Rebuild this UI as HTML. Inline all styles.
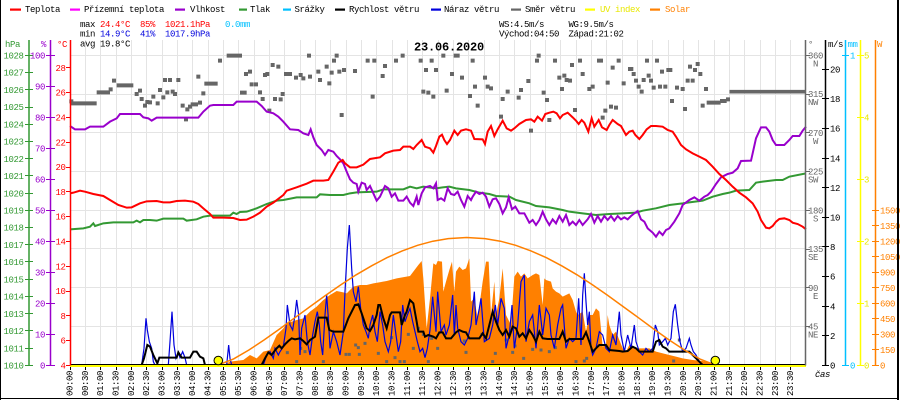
<!DOCTYPE html>
<html><head><meta charset="utf-8"><style>
html,body{margin:0;padding:0;background:#fff;width:900px;height:400px;overflow:hidden}
svg{display:block}
text{font-family:"Liberation Mono",monospace;font-size:9px;letter-spacing:-0.4px}
</style></head><body>
<svg width="900" height="400" viewBox="0 0 900 400" xmlns="http://www.w3.org/2000/svg">
<rect width="900" height="400" fill="#fff"/>
<!-- grid -->
<path fill="none" stroke="#e4e4e4" stroke-width="1" d="M85.5 40V365M100.5 40V365M116.5 40V365M131.5 40V365M146.5 40V365M162.5 40V365M177.5 40V365M192.5 40V365M208.5 40V365M223.5 40V365M238.5 40V365M254.5 40V365M269.5 40V365M284.5 40V365M300.5 40V365M315.5 40V365M330.5 40V365M346.5 40V365M361.5 40V365M376.5 40V365M392.5 40V365M407.5 40V365M422.5 40V365M438.5 40V365M453.5 40V365M468.5 40V365M484.5 40V365M499.5 40V365M514.5 40V365M530.5 40V365M545.5 40V365M560.5 40V365M576.5 40V365M591.5 40V365M606.5 40V365M622.5 40V365M637.5 40V365M652.5 40V365M668.5 40V365M683.5 40V365M698.5 40V365M714.5 40V365M729.5 40V365M744.5 40V365M760.5 40V365M775.5 40V365M790.5 40V365
M70 326.5H805M70 287.5H805M70 248.5H805M70 210.5H805M70 171.5H805M70 132.5H805M70 94.5H805M70 55.5H805"/>

<g transform="translate(70,40) scale(0.333333)">
<!-- solar measured fill -->
<polygon fill="#ff8000" points="460,975 480,965 520,960 540,945 560,955 580,935 600,930 620,885 640,865 650,850 680,840 700,835 720,815 740,800 760,780 780,765 800,753 820,757 830,760 850,740 870,735 890,735 910,730 950,723 980,715 1020,708 1045,675 1055,663 1060,715 1070,865 1080,775 1090,670 1098,675 1103,663 1116,665 1120,755 1128,725 1138,690 1146,665 1153,755 1158,695 1168,680 1178,690 1188,685 1198,655 1203,785 1213,775 1223,835 1238,725 1248,665 1256,665 1263,825 1273,725 1278,825 1288,775 1298,685 1308,825 1323,855 1333,710 1343,695 1353,710 1363,700 1373,715 1388,705 1398,700 1408,705 1418,795 1423,715 1428,720 1443,725 1448,745 1458,755 1468,760 1478,770 1488,765 1498,760 1508,780 1518,815 1523,825 1538,815 1548,875 1558,825 1568,825 1578,805 1588,815 1598,920 1608,915 1613,825 1618,855 1628,885 1638,875 1658,925 1668,935 1678,915 1698,925 1718,925 1738,925 1758,935 1798,945 1818,950 1838,955 1868,960 1898,963 1928,970 1938,975"/>
<!-- wind direction squares -->
<path fill="none" stroke="#666" stroke-width="12" stroke-linecap="square" d="M6 190H74M4 184h0M86 157H114M146 136H184M409 131H437M476 47H510M516 158H524
M122 148h0M132 122h0M200 162h0M210 152h0M215 177h0M225 197h0M232 186h0M240 187h0M250 170h0M263 190h0M270 150h0M280 172h0M285 120h0M292 157h0M300 120h0M308 155h0M315 162h0M325 120h0M338 197h0M348 238h0M352 208h0M360 200h0M368 193h0M378 193h0M385 110h0M390 188h0M400 160h0M450 62h0M528 102h0M540 95h0M545 133h0M558 133h0M570 157h0M578 177h0M585 105h0M592 102h0M598 212h0M608 75h0M615 177h0M625 80h0M632 178h0M638 162h0M648 102h0M660 102h0M678 113h0M692 105h0M700 115h0M717 47h0M720 110h0M745 95h0M750 120h0M770 80h0M778 130h0M785 98h0M792 62h0M800 47h0M808 95h0M815 225h0M822 90h0M855 93h0M893 62h0M908 170h0M913 62h0M938 108h0M945 78h0M978 62h0M998 47h0M1052 62h0M1060 155h0M1068 90h0M1075 158h0M1085 62h0M1090 170h0M1098 90h0
M1120 47h0M1130 152h0M1146 102h0M1157 47H1163M1176 113h0M1200 168h0M1208 62h0M1215 140h0M1223 197h0M1245 113h0M1253 140h0M1263 145h0M1293 230h0M1298 177h0M1313 155h0M1346 173h0M1353 150h0M1375 123h0M1383 272h0M1401 62h0M1406 47h0M1421 158h0M1431 180h0M1438 240h0M1455 62h0M1468 113h0M1476 147h0M1483 107h0M1490 120h0M1500 122h0M1506 75h0M1515 210h0M1530 62h0M1538 102h0M1558 147h0M1568 140h0M1587 62H1593M1598 233h0M1606 212h0M1613 128h0M1623 200h0M1628 83h0M1638 203h0M1646 62h0M1661 130h0M1680 87H1684M1691 102h0M1698 122h0M1706 140h0M1715 155h0M1721 120h0M1731 62h0M1736 107h0M1743 122h0M1751 143h0M1761 62h0M1770 140h0M1776 95h0M1786 140h0M1795 90H1801M1806 183h0M1821 143h0M1838 147h0M1845 207h0M1853 122h0M1860 80h0M1868 122h0M1875 90h0M1883 72h0M1891 102h0M1898 197h0M1908 147h0M1916 188H1946M1956 183H1964M1974 178h0"/>
<path fill="none" stroke="#666" stroke-width="11" stroke-linecap="square" d="M1984 155H2202"/>
<path fill="none" stroke="#666" stroke-width="9" stroke-linecap="square" d="M652 938h0M680 965h0M692 925h0M705 935h0M760 965h0M828 943h0M838 943h0M857 915h0M865 923h0M868 943h0M885 910h0M925 940h0M950 965h0M965 893h0M975 953h0M990 965h0M1003 965h0M1015 883h0M1030 925h0M1045 865h0M1060 883h0M1075 965h0M1085 895h0M1103 925h0M1183 903h0M1188 937h0M1236 883h0M1268 965h0M1276 940h0M1308 900h0M1328 937h0M1335 918h0M1361 955h0M1388 928h0M1413 930h0M1438 935h0M1456 923h0M1518 965h0M1543 963h0M1550 955h0M1811 963h0M1828 900h0"/>
<!-- gusts -->
<polyline fill="none" stroke="#0000dd" stroke-width="1.2" vector-effect="non-scaling-stroke" points="0,975 215,975 222,925 228,835 232,870 238,905 245,925 250,965 255,975 295,975 300,905 306,815 312,915 318,955 325,937 330,953 338,935 345,953 350,975 470,975 476,915 480,955 485,975 580,975 590,945 600,935 610,955 615,925 625,945 630,935 640,920 648,865 652,795 660,855 668,870 675,825 680,780 686,825 690,945 695,865 705,825 712,905 720,945 728,885 735,845 742,815 748,855 752,905 758,945 765,825 770,765 775,835 780,925 790,875 800,905 810,945 820,875 825,755 832,625 838,555 845,685 850,755 858,785 865,740 872,805 880,855 888,875 895,895 900,855 908,825 915,875 922,905 930,815 938,855 945,905 955,935 962,905 970,825 978,885 985,935 992,905 998,795 1005,845 1012,825 1020,805 1028,845 1035,875 1042,905 1050,935 1058,925 1065,953 1072,925 1080,870 1088,770 1095,845 1098,875 1103,755 1108,815 1113,875 1123,855 1128,885 1138,855 1148,765 1153,885 1158,795 1163,865 1173,905 1183,915 1193,895 1203,855 1213,755 1218,855 1228,805 1233,775 1243,905 1258,895 1268,855 1276,795 1283,855 1293,775 1303,805 1308,925 1318,885 1326,795 1333,925 1343,855 1353,725 1363,705 1368,905 1378,845 1388,825 1398,925 1408,795 1418,885 1428,805 1438,825 1443,885 1453,925 1463,855 1473,805 1478,795 1488,925 1498,895 1508,905 1518,895 1526,775 1533,915 1538,765 1543,700 1548,785 1553,855 1558,815 1563,925 1568,945 1578,925 1588,875 1598,885 1608,925 1618,935 1628,885 1638,915 1648,815 1653,885 1663,935 1673,885 1683,925 1693,855 1698,905 1708,935 1718,945 1728,925 1738,935 1748,925 1756,855 1763,875 1768,915 1778,905 1786,895 1793,915 1803,895 1810,815 1816,793 1823,855 1830,905 1838,935 1848,925 1858,895 1863,915 1870,935 1878,945 1888,965 1898,975 2208,975"/>
<!-- wind speed -->
<polyline fill="none" stroke="#000" stroke-width="2" vector-effect="non-scaling-stroke" points="0,975 215,975 222,955 232,915 240,920 250,945 262,970 268,953 300,953 320,953 325,937 335,953 360,953 370,935 380,935 390,950 400,955 405,975 575,975 585,955 595,937 605,945 612,935 620,925 628,917 635,925 645,913 655,903 665,895 675,898 690,895 700,903 710,913 720,900 735,890 745,833 770,833 778,870 790,875 820,875 835,835 845,815 855,795 865,793 875,820 890,865 900,873 910,855 920,825 925,795 930,795 940,835 950,865 960,825 965,817 990,817 995,855 1005,825 1010,815 1020,780 1030,790 1040,845 1045,875 1060,875 1065,890 1075,885 1090,890 1098,895 1108,877 1118,877 1128,895 1143,895 1158,877 1168,870 1178,875 1188,877 1198,895 1228,895 1238,880 1248,895 1258,855 1268,815 1278,845 1288,870 1298,885 1308,870 1318,890 1328,860 1338,865 1348,890 1358,880 1368,895 1378,870 1388,885 1398,905 1408,875 1418,895 1433,897 1468,897 1478,875 1488,905 1498,897 1538,897 1548,877 1558,905 1568,935 1578,925 1588,915 1608,915 1618,930 1648,933 1658,935 1673,933 1688,920 1698,925 1708,935 1748,935 1758,905 1768,900 1778,920 1788,925 1798,935 1858,935 1868,945 1878,955 1888,965 1898,975 2208,975"/>
<!-- pressure -->
<polyline fill="none" stroke="#339933" stroke-width="2" vector-effect="non-scaling-stroke" points="0,568 40,565 60,560 70,550 75,558 100,550 130,547 190,547 200,542 210,547 220,540 240,540 260,542 280,536 340,536 350,542 380,538 400,530 420,527 480,527 490,518 500,522 510,516 530,515 560,505 590,492 620,482 640,480 680,472 740,472 750,463 780,465 820,465 840,460 860,457 920,455 940,448 1000,448 1020,440 1040,445 1060,440 1098,445 1118,442 1138,440 1158,445 1198,450 1228,458 1258,462 1278,468 1318,470 1338,480 1378,490 1398,498 1438,502 1478,510 1498,515 1538,520 1578,525 1618,522 1658,520 1698,518 1718,512 1758,505 1798,495 1838,490 1858,487 1898,482 1928,470 1958,462 1978,458 1998,452 2038,450 2058,428 2078,425 2118,420 2138,420 2158,410 2208,400"/>
<!-- humidity -->
<polyline fill="none" stroke="#9900cc" stroke-width="2" vector-effect="non-scaling-stroke" points="0,258 15,268 45,268 60,260 100,260 120,245 140,235 150,222 210,222 220,232 235,235 245,242 260,233 385,233 400,215 420,197 430,195 490,195 500,185 560,185 575,198 590,215 610,220 625,230 640,245 660,268 685,270 700,280 715,285 722,268 730,292 740,315 755,330 765,345 775,330 790,335 800,348 810,358 820,370 830,395 840,418 850,428 860,432 865,455 875,428 885,432 890,450 900,438 910,460 920,482 930,470 945,438 955,445 965,470 975,460 985,482 1000,482 1010,470 1020,488 1030,498 1040,470 1045,495 1055,460 1065,442 1080,438 1090,445 1098,430 1103,480 1113,475 1123,482 1133,445 1143,462 1153,465 1163,455 1173,480 1183,500 1193,468 1203,480 1208,470 1218,455 1228,462 1238,458 1248,470 1258,500 1268,478 1278,475 1288,492 1298,520 1308,502 1316,472 1326,508 1336,500 1348,520 1363,520 1378,548 1388,540 1398,555 1408,540 1418,515 1428,538 1438,555 1448,538 1458,550 1468,528 1478,545 1488,525 1498,555 1508,545 1518,555 1528,540 1538,555 1553,538 1563,522 1573,548 1583,528 1593,545 1603,528 1613,540 1623,528 1633,542 1643,528 1653,538 1663,532 1673,538 1683,528 1693,520 1703,513 1713,538 1723,545 1733,565 1748,578 1758,590 1768,575 1778,585 1788,570 1798,565 1813,545 1828,520 1838,495 1858,480 1873,472 1888,482 1903,470 1913,465 1923,455 1938,432 1953,412 1973,402 1988,398 2003,385 2013,363 2043,362 2048,340 2058,295 2073,262 2088,262 2098,275 2108,300 2118,315 2143,315 2158,300 2168,288 2188,288 2198,272 2208,260"/>
<!-- temperature -->
<polyline fill="none" stroke="#ff0000" stroke-width="2" vector-effect="non-scaling-stroke" points="0,460 10,458 30,452 45,455 70,462 100,468 120,480 145,495 170,503 185,502 210,490 230,484 260,483 280,487 300,487 320,483 345,482 370,485 385,492 400,505 420,522 430,533 460,533 490,534 510,540 530,539 550,530 570,518 590,500 610,488 640,465 650,452 680,442 710,431 730,422 760,422 775,420 790,395 805,368 818,360 825,370 840,382 860,382 880,374 900,357 930,352 945,340 970,332 990,330 1000,320 1020,320 1030,327 1040,315 1055,300 1065,320 1080,325 1090,338 1098,318 1108,290 1116,284 1123,300 1131,312 1140,300 1153,272 1163,285 1173,272 1188,268 1203,272 1213,297 1238,298 1245,312 1253,275 1263,258 1273,288 1283,268 1298,242 1310,265 1323,272 1333,265 1348,252 1368,240 1383,238 1393,245 1403,230 1416,242 1426,222 1438,218 1450,215 1460,220 1470,235 1478,225 1493,218 1508,232 1518,242 1526,252 1535,240 1543,248 1555,275 1565,235 1573,260 1586,240 1596,262 1610,270 1618,255 1628,240 1643,252 1653,258 1668,285 1678,275 1688,272 1696,285 1708,297 1718,285 1730,268 1743,258 1758,258 1778,260 1793,270 1808,275 1818,290 1833,315 1848,328 1868,340 1888,350 1908,360 1928,380 1948,402 1968,420 1988,440 2008,458 2028,472 2048,490 2063,515 2073,540 2088,563 2098,565 2108,558 2118,545 2128,537 2143,535 2158,540 2168,548 2183,552 2198,560 2208,568"/>
</g>

<!-- theoretical solar -->
<polyline fill="none" stroke="#ff8000" stroke-width="1.5" points="218.2,365 233.6,358.9 248.9,350 264.2,339.9 279.6,329 294.9,317.7 310.2,306.5 325.6,295.4 340.9,284.8 356.2,274.8 371.6,265.8 386.9,257.7 402.2,250.9 417.6,245.3 432.9,241.2 448.2,238.6 466.6,237.5 485,238.6 500.4,241.2 515.7,245.3 531,250.9 546.4,257.7 561.7,265.8 577,274.8 592.4,284.8 607.7,295.4 623,306.5 638.4,317.7 653.7,329 669,339.9 684.4,350 699.7,358.9 715,365"/>

<!-- baseline -->
<line x1="70" y1="364.5" x2="806" y2="364.5" stroke="#000" stroke-width="1"/>
<line x1="70" y1="366" x2="806" y2="366" stroke="#ffff00" stroke-width="2"/>
<circle cx="218.3" cy="360.5" r="4.3" fill="#ffff00" stroke="#000" stroke-width="1"/>
<circle cx="715.3" cy="360.5" r="4.3" fill="#ffff00" stroke="#000" stroke-width="1"/>
<!-- x ticks -->
<path stroke="#000" stroke-width="1" d="M70.5 367v3M85.5 367v3M100.5 367v3M116.5 367v3M131.5 367v3M146.5 367v3M162.5 367v3M177.5 367v3M192.5 367v3M208.5 367v3M223.5 367v3M238.5 367v3M254.5 367v3M269.5 367v3M284.5 367v3M300.5 367v3M315.5 367v3M330.5 367v3M346.5 367v3M361.5 367v3M376.5 367v3M392.5 367v3M407.5 367v3M422.5 367v3M438.5 367v3M453.5 367v3M468.5 367v3M484.5 367v3M499.5 367v3M514.5 367v3M530.5 367v3M545.5 367v3M560.5 367v3M576.5 367v3M591.5 367v3M606.5 367v3M622.5 367v3M637.5 367v3M652.5 367v3M668.5 367v3M683.5 367v3M698.5 367v3M714.5 367v3M729.5 367v3M744.5 367v3M760.5 367v3M775.5 367v3M790.5 367v3"/>

<!-- left axes -->
<line x1="29" y1="40" x2="29" y2="365.5" stroke="#339933" stroke-width="1.5"/>
<line x1="50.5" y1="40" x2="50.5" y2="365.5" stroke="#9900cc" stroke-width="1.5"/>
<line x1="70.5" y1="40" x2="70.5" y2="365.5" stroke="#ff0000" stroke-width="1.5"/>
<path stroke="#339933" stroke-width="1" d="M25 55.5H33M25 72.5H33M25 89.5H33M25 107.5H33M25 124.5H33M25 141.5H33M25 158.5H33M25 175.5H33M25 193.5H33M25 210.5H33M25 227.5H33M25 244.5H33M25 261.5H33M25 279.5H33M25 296.5H33M25 313.5H33M25 330.5H33M25 348.5H33M25 365.5H33"/>
<path stroke="#9900cc" stroke-width="1" d="M46 55.5H55M46 86.5H55M46 117.5H55M46 148.5H55M46 179.5H55M46 210.5H55M46 241.5H55M46 272.5H55M46 303.5H55M46 334.5H55M46 365.5H55"/>
<path stroke="#ff0000" stroke-width="1" d="M66 67.5H70M66 92.5H70M66 117.5H70M66 142.5H70M66 167.5H70M66 191.5H70M66 216.5H70M66 241.5H70M66 266.5H70M66 291.5H70M66 315.5H70M66 340.5H70M66 365.5H70"/>
<g fill="#339933" text-anchor="end">
<text x="5" y="47" text-anchor="start">hPa</text>
<text x="23.5" y="58.5">1028</text><text x="23.5" y="75.7">1027</text><text x="23.5" y="92.9">1026</text><text x="23.5" y="110.1">1025</text><text x="23.5" y="127.4">1024</text><text x="23.5" y="144.6">1023</text><text x="23.5" y="161.8">1022</text><text x="23.5" y="179">1021</text><text x="23.5" y="196.3">1020</text><text x="23.5" y="213.5">1019</text><text x="23.5" y="230.7">1018</text><text x="23.5" y="247.9">1017</text><text x="23.5" y="265.1">1016</text><text x="23.5" y="282.4">1015</text><text x="23.5" y="299.6">1014</text><text x="23.5" y="316.8">1013</text><text x="23.5" y="334">1012</text><text x="23.5" y="351.3">1011</text><text x="23.5" y="368.5">1010</text>
</g>
<g fill="#9900cc" text-anchor="end">
<text x="41" y="47" text-anchor="start">%</text>
<text x="45" y="58.5">100</text><text x="45" y="89.5">90</text><text x="45" y="120.5">80</text><text x="45" y="151.5">70</text><text x="45" y="182.5">60</text><text x="45" y="213.5">50</text><text x="45" y="244.5">40</text><text x="45" y="275.5">30</text><text x="45" y="306.5">20</text><text x="45" y="337.5">10</text><text x="45" y="368.5">0</text>
</g>
<g fill="#ff0000" text-anchor="end">
<text x="57" y="47" text-anchor="start">°C</text>
<text x="65.5" y="70.9">28</text><text x="65.5" y="95.7">26</text><text x="65.5" y="120.5">24</text><text x="65.5" y="145.3">22</text><text x="65.5" y="170.1">20</text><text x="65.5" y="194.9">18</text><text x="65.5" y="219.7">16</text><text x="65.5" y="244.5">14</text><text x="65.5" y="269.3">12</text><text x="65.5" y="294.1">10</text><text x="65.5" y="318.9">8</text><text x="65.5" y="343.7">6</text><text x="65.5" y="368.5">4</text>
</g>

<!-- right axes -->
<line x1="805.5" y1="40" x2="805.5" y2="365.5" stroke="#666" stroke-width="1.5"/>
<line x1="825.5" y1="40" x2="825.5" y2="365.5" stroke="#000" stroke-width="1.5"/>
<line x1="845.5" y1="40" x2="845.5" y2="365.5" stroke="#00c0ff" stroke-width="1.5"/>
<line x1="860.5" y1="40" x2="860.5" y2="365.5" stroke="#ffff00" stroke-width="1.5"/>
<line x1="875.5" y1="40" x2="875.5" y2="365.5" stroke="#ff8000" stroke-width="1.5"/>
<path stroke="#666" stroke-width="1" d="M805 55.5H810M805 94.5H810M805 132.5H810M805 171.5H810M805 210.5H810M805 249.5H810M805 287.5H810M805 326.5H810"/>
<path stroke="#000" stroke-width="1" d="M822 69.5H829M822 98.5H829M822 128.5H829M822 158.5H829M822 187.5H829M822 217.5H829M822 246.5H829M822 276.5H829M822 306.5H829M822 335.5H829M822 365.5H829"/>
<path stroke="#00c0ff" stroke-width="1" d="M842 55.5H849M842 365.5H849"/>
<path stroke="#ffff00" stroke-width="1" d="M857 55.5H864M857 117.5H864M857 179.5H864M857 241.5H864M857 303.5H864M857 365.5H864"/>
<path stroke="#ff8000" stroke-width="1" d="M872 210.5H879M872 225.5H879M872 241.5H879M872 256.5H879M872 272.5H879M872 287.5H879M872 303.5H879M872 318.5H879M872 334.5H879M872 349.5H879M872 365.5H879"/>
<g fill="#666">
<text x="808" y="47">°</text>
<text x="808" y="58.5">360</text><text x="818" y="66.5" text-anchor="end">N</text>
<text x="808" y="97.2">315</text><text x="818" y="105" text-anchor="end">NW</text>
<text x="808" y="136">270</text><text x="818" y="144" text-anchor="end">W</text>
<text x="808" y="174.7">225</text><text x="818" y="182.7" text-anchor="end">SW</text>
<text x="808" y="213.5">180</text><text x="818" y="221.5" text-anchor="end">S</text>
<text x="808" y="252.2">135</text><text x="818" y="260.2" text-anchor="end">SE</text>
<text x="808" y="291">90</text><text x="818" y="299" text-anchor="end">E</text>
<text x="808" y="329.7">45</text><text x="818" y="337.7" text-anchor="end">NE</text>
</g>
<g fill="#000">
<text x="828" y="47">m/s</text>
<text x="830" y="72.5">20</text><text x="830" y="102.1">18</text><text x="830" y="131.7">16</text><text x="830" y="161.3">14</text><text x="830" y="190.9">12</text><text x="830" y="220.5">10</text><text x="830" y="250.1">8</text><text x="830" y="279.7">6</text><text x="830" y="309.3">4</text><text x="830" y="338.9">2</text><text x="830" y="368.5">0</text>
<text x="815" y="377" font-style="italic">čas</text>
</g>
<g fill="#00c0ff"><text x="847.5" y="47">mm</text><text x="850" y="58.5">1</text><text x="850" y="368.5">0</text></g>
<g fill="#e8e800"><text x="864" y="58.5">5</text><text x="864" y="120.5">4</text><text x="864" y="182.5">3</text><text x="864" y="244.5">2</text><text x="864" y="306.5">1</text><text x="864" y="368.5">0</text></g>
<g fill="#ff8000"><text x="877" y="47">W</text>
<text x="880" y="213.5">1500</text><text x="880" y="229">1350</text><text x="880" y="244.5">1200</text><text x="880" y="260">1050</text><text x="880" y="275.5">900</text><text x="880" y="291">750</text><text x="880" y="306.5">600</text><text x="880" y="322">450</text><text x="880" y="337.5">300</text><text x="880" y="353">150</text><text x="880" y="368.5">0</text></g>

<!-- time labels -->
<g transform="rotate(-90)" fill="#000">
<text x="-396" y="72.5">00:00</text><text x="-396" y="87.8">00:30</text><text x="-396" y="103.2">01:00</text><text x="-396" y="118.5">01:30</text><text x="-396" y="133.8">02:00</text><text x="-396" y="149.2">02:30</text><text x="-396" y="164.5">03:00</text><text x="-396" y="179.8">03:30</text><text x="-396" y="195.2">04:00</text><text x="-396" y="210.5">04:30</text><text x="-396" y="225.8">05:00</text><text x="-396" y="241.2">05:30</text><text x="-396" y="256.5">06:00</text><text x="-396" y="271.8">06:30</text><text x="-396" y="287.2">07:00</text><text x="-396" y="302.5">07:30</text><text x="-396" y="317.8">08:00</text><text x="-396" y="333.2">08:30</text><text x="-396" y="348.5">09:00</text><text x="-396" y="363.8">09:30</text><text x="-396" y="379.2">10:00</text><text x="-396" y="394.5">10:30</text><text x="-396" y="409.8">11:00</text><text x="-396" y="425.2">11:30</text><text x="-396" y="440.5">12:00</text><text x="-396" y="455.8">12:30</text><text x="-396" y="471.2">13:00</text><text x="-396" y="486.5">13:30</text><text x="-396" y="501.8">14:00</text><text x="-396" y="517.2">14:30</text><text x="-396" y="532.5">15:00</text><text x="-396" y="547.8">15:30</text><text x="-396" y="563.2">16:00</text><text x="-396" y="578.5">16:30</text><text x="-396" y="593.8">17:00</text><text x="-396" y="609.2">17:30</text><text x="-396" y="624.5">18:00</text><text x="-396" y="639.8">18:30</text><text x="-396" y="655.2">19:00</text><text x="-396" y="670.5">19:30</text><text x="-396" y="685.8">20:00</text><text x="-396" y="701.2">20:30</text><text x="-396" y="716.5">21:00</text><text x="-396" y="731.8">21:30</text><text x="-396" y="747.2">22:00</text><text x="-396" y="762.5">22:30</text><text x="-396" y="777.8">23:00</text><text x="-396" y="793.2">23:30</text>
</g>

<!-- legend -->
<rect x="10" y="8.5" width="11" height="2.2" fill="#ff0000"/>
<rect x="70" y="8.5" width="10" height="2.2" fill="#ff00ff"/>
<rect x="175" y="8.5" width="10" height="2.2" fill="#9900cc"/>
<rect x="239" y="8.5" width="8" height="2.2" fill="#339933"/>
<rect x="283" y="8.5" width="8" height="2.2" fill="#00c0ff"/>
<rect x="335" y="8.5" width="10" height="2.2" fill="#000"/>
<rect x="431" y="8.5" width="10" height="2.2" fill="#0000dd"/>
<rect x="511" y="8.5" width="10" height="2.2" fill="#666"/>
<rect x="585" y="8.5" width="10" height="2.2" fill="#ffff00"/>
<rect x="650" y="8.5" width="10" height="2.2" fill="#ff8000"/>
<g fill="#000">
<text x="25" y="12">Teplota</text>
<text x="84" y="12">Přízemní teplota</text>
<text x="190" y="12">Vlhkost</text>
<text x="250" y="12">Tlak</text>
<text x="294.5" y="12">Srážky</text>
<text x="349" y="12">Rychlost větru</text>
<text x="444" y="12">Náraz větru</text>
<text x="525" y="12">Směr větru</text>
<text x="600" y="12" fill="#e8e800">UV index</text>
<text x="665" y="12" fill="#ff8000">Solar</text>
</g>

<!-- stats -->
<g fill="#000">
<text x="80" y="27">max</text>
<text x="100" y="27" fill="#ff0000">24.4°C</text>
<text x="140" y="27" fill="#ff0000">85%</text>
<text x="165" y="27" fill="#ff0000">1021.1hPa</text>
<text x="225" y="27" fill="#00c0ff">0.0mm</text>
<text x="80" y="36.5">min</text>
<text x="100" y="36.5" fill="#0000dd">14.9°C</text>
<text x="140" y="36.5" fill="#0000dd">41%</text>
<text x="165" y="36.5" fill="#0000dd">1017.9hPa</text>
<text x="80" y="46.5">avg</text>
<text x="100" y="46.5">19.8°C</text>
<text x="499" y="27">WS:4.5m/s</text>
<text x="568.5" y="27">WG:9.5m/s</text>
<text x="499" y="36.5">Východ:04:50</text>
<text x="568.5" y="36.5">Západ:21:02</text>
</g>
<text x="449" y="50.5" text-anchor="middle" font-weight="bold" style="font-size:12px;letter-spacing:-0.2px" fill="#000">23.06.2020</text>

<!-- frame -->
<rect x="0" y="0" width="1" height="400" fill="#000"/>
<rect x="897" y="0" width="2" height="400" fill="#000"/>
<rect x="0" y="398" width="899" height="1" fill="#000"/>
</svg>
</body></html>
